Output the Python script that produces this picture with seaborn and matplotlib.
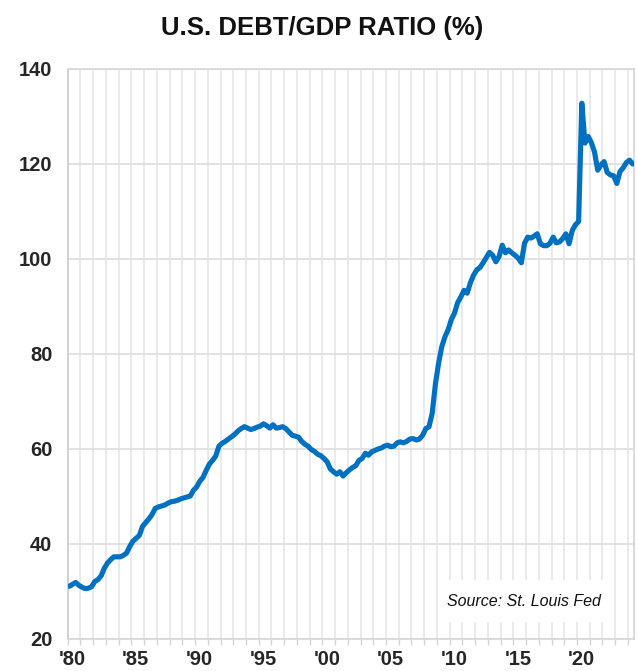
import numpy as np
import pandas as pd
import seaborn as sns
import matplotlib
matplotlib.use("Agg")
import matplotlib.pyplot as plt
from matplotlib import font_manager
from matplotlib.patches import Rectangle

# Debt/GDP ratio (%), quarterly, 1980Q1 .. 2024Q2
start_year = 1980
debt_gdp = [
    31.1, 31.5, 31.9, 31.3,   # 1980
    30.9, 30.6, 30.7, 31.0,   # 1981
    32.1, 32.5, 33.3, 34.9,   # 1982
    36.0, 36.7, 37.3, 37.3,   # 1983
    37.3, 37.6, 38.1, 39.5,   # 1984
    40.6, 41.2, 41.8, 43.7,   # 1985
    44.5, 45.3, 46.2, 47.5,   # 1986
    47.8, 48.0, 48.2, 48.6,   # 1987
    48.9, 49.0, 49.2, 49.5,   # 1988
    49.7, 49.9, 50.1, 51.3,   # 1989
    52.0, 53.2, 54.0, 55.5,   # 1990
    56.8, 57.6, 58.5, 60.6,   # 1991
    61.2, 61.6, 62.1, 62.6,   # 1992
    63.1, 63.8, 64.3, 64.7,   # 1993
    64.4, 64.1, 64.3, 64.6,   # 1994
    64.8, 65.3, 64.9, 64.4,   # 1995
    65.1, 64.4, 64.5, 64.7,   # 1996
    64.3, 63.6, 62.9, 62.7,   # 1997
    62.5, 61.6, 61.0, 60.6,   # 1998
    59.9, 59.5, 58.9, 58.6,   # 1999
    58.0, 57.3, 55.8, 55.2,   # 2000
    54.7, 55.2, 54.3, 55.0,   # 2001
    55.6, 56.1, 56.5, 57.6,   # 2002
    58.0, 59.1, 58.7, 59.4,   # 2003
    59.7, 60.0, 60.2, 60.6,   # 2004
    60.8, 60.5, 60.6, 61.3,   # 2005
    61.5, 61.3, 61.6, 62.1,   # 2006
    62.2, 61.9, 62.1, 62.9,   # 2007
    64.3, 64.7, 67.5, 73.6,   # 2008
    78.0, 81.5, 83.6, 85.1,   # 2009
    87.2, 88.6, 90.8, 92.0,   # 2010
    93.4, 92.8, 95.0, 96.6,   # 2011
    97.7, 98.2, 99.2, 100.3,  # 2012
    101.4, 100.8, 99.4, 100.5,  # 2013
    102.9, 101.3, 101.9, 101.3,  # 2014
    100.8, 100.2, 99.2, 103.3,   # 2015
    104.6, 104.4, 104.8, 105.3,  # 2016
    103.2, 102.8, 102.8, 103.3,  # 2017
    104.6, 103.4, 103.6, 104.3,  # 2018
    105.3, 103.2, 106.0, 107.2,  # 2019
    107.9, 132.8, 124.4, 125.8,  # 2020
    124.5, 122.5, 118.7, 119.8,  # 2021
    120.5, 118.2, 117.7, 117.5,  # 2022
    115.9, 118.4, 119.2, 120.3,  # 2023
    120.8, 120.0,                # 2024
]
label_years = list(range(1980, 2021, 5))
tick_labels = ["'80", "'85", "'90", "'95", "'00", "'05", "'10", "'15", "'20"]
y_ticks = [20, 40, 60, 80, 100, 120, 140]

# quarter midpoints as decimal years
t = start_year + (np.arange(len(debt_gdp)) + 0.5) / 4
df = pd.DataFrame({"year": t, "ratio": debt_gdp})

sns.set_theme(style="white")
try:
    font_manager.findfont("Liberation Sans Narrow", fallback_to_default=False)
    NARROW = "Liberation Sans Narrow"
    tick_size, title_size = 15.5, 22.5
except ValueError:
    NARROW = "Liberation Sans"
    tick_size, title_size = 14.5, 18.5
plt.rcParams["font.family"] = [NARROW, "DejaVu Sans"]

fig = plt.figure(figsize=(6.37, 6.71), dpi=100)
ax = fig.add_axes([0.1063, 0.0477, 0.8885, 0.8495])

sns.lineplot(data=df, x="year", y="ratio", color="#0070C0", linewidth=3.7,
             ax=ax, zorder=3)

ax.set_xlim(1980.0, 2024.45)
ax.set_ylim(20, 140)
ax.set_xlabel("")
ax.set_ylabel("")

# yearly grid lines with small gray ticks, labels a bit right of the year line
ax.set_xticks(range(1980, 2025), minor=True)
ax.set_xticks([y + 0.35 for y in label_years])
ax.set_xticklabels(tick_labels, fontsize=tick_size, fontweight="bold")
ax.set_yticks(y_ticks)
ax.set_yticklabels([str(v) for v in y_ticks], fontsize=tick_size, fontweight="bold")
ax.tick_params(axis="x", which="major", length=0, pad=8)
ax.tick_params(axis="x", which="minor", length=4, width=1, color="#d4d4d4", bottom=True)
ax.tick_params(axis="y", length=0, pad=11)

ax.set_axisbelow(True)
ax.grid(False)
ax.grid(which="minor", axis="x", color="#e6e6e6", linewidth=1.2)
ax.grid(which="major", axis="y", color="#e2e2e2", linewidth=1.4)
for side, sp in ax.spines.items():
    sp.set_visible(True)
    sp.set_color("#d6d6d6")
    sp.set_linewidth(1.2)
ax.spines["left"].set_color("#cccccc")

# source note on a white box hiding the grid
ax.add_patch(Rectangle((0.654, 0.030), 0.294, 0.074, transform=ax.transAxes,
                       facecolor="white", edgecolor="none", zorder=1.5))
ax.text(0.806, 0.066, "Source: St. Louis Fed", transform=ax.transAxes,
        ha="center", va="center", fontsize=11.5, fontstyle="italic",
        family=["Liberation Sans", "DejaVu Sans"], color="#111111", zorder=4)

fig.text(0.5055, 1 - 28.5 / 671, "U.S. DEBT/GDP RATIO (%)", ha="center", va="center",
         fontsize=title_size, fontweight="bold", color="#111111")

fig.savefig("out.png", dpi=100)
